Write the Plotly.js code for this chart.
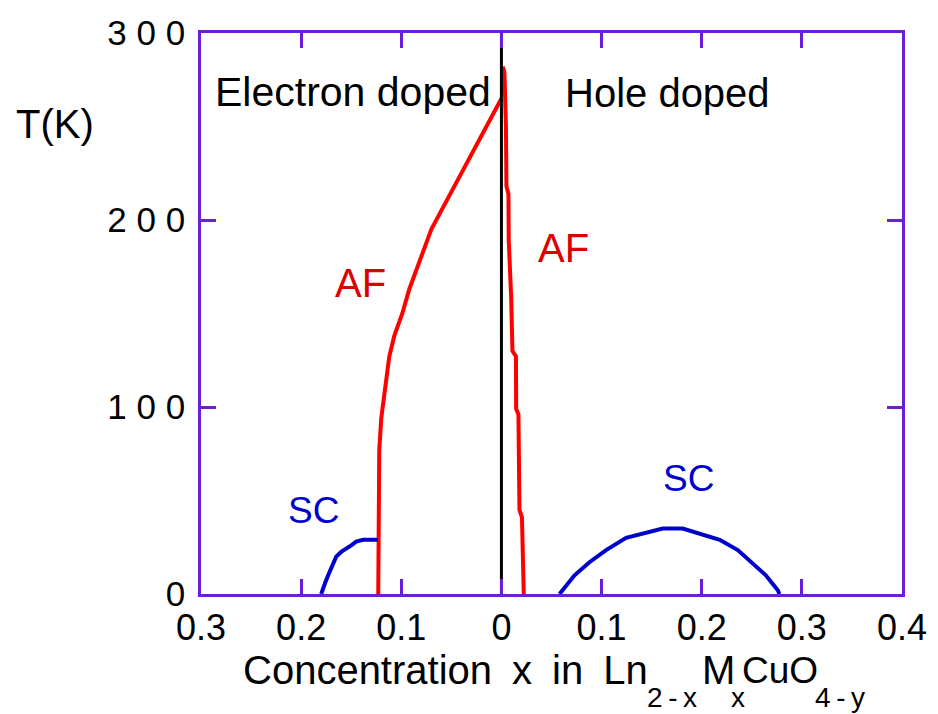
<!DOCTYPE html>
<html>
<head>
<meta charset="utf-8">
<script src="https://cdn.plot.ly/plotly-3.0.1.min.js"></script>
<style>html,body{margin:0;padding:0;background:#fff;}#chart{width:938px;height:714px;}</style>
</head>
<body>
<div id="chart"></div>
<script>
// --- data (concentration x: negative = electron doped, positive = hole doped) ---
const afElecX = [-0.123, -0.123, -0.122, -0.120, -0.117, -0.112, -0.107, -0.099, -0.092, -0.080, -0.070, -0.054, -0.040, -0.030, -0.020, -0.009, -0.002, 0];
const afElecT = [0, 70, 77, 94, 107, 127, 138, 150, 163, 180, 195, 211, 225, 235, 245, 255, 262, 265];

const afHoleX = [0.0013, 0.003, 0.0045, 0.005, 0.007, 0.0073, 0.0097, 0.011, 0.0145, 0.0147, 0.017, 0.0173, 0.018, 0.018, 0.0205, 0.0213, 0.0223];
const afHoleT = [282, 279, 250, 218, 214, 189, 159, 130, 127, 99, 96, 77, 68, 45, 41, 13, 0];

const scElecX = [-0.180, -0.179, -0.176, -0.173, -0.169, -0.165, -0.160, -0.155, -0.150, -0.145, -0.138, -0.1235];
const scElecT = [0, 2, 6, 10, 15, 20, 22.5, 24, 26, 28, 29, 29];

const scHoleX = [0.058, 0.0596, 0.073, 0.0879, 0.1045, 0.1245, 0.1445, 0.161, 0.181, 0.198, 0.218, 0.236, 0.251, 0.264, 0.276, 0.2776];
const scHoleT = [0, 1, 10, 17, 23.5, 30, 33, 35, 35, 32.5, 29, 23.5, 16, 10, 2, 0];

const boundaryX = [0, 0];
const boundaryT = [0, 300];

const xTickVals = [-0.3, -0.2, -0.1, 0, 0.1, 0.2, 0.3, 0.4];
const xTickText = ['0.3', '0.2', '0.1', '0', '0.1', '0.2', '0.3', '0.4'];
const yTickVals = [0, 100, 200, 300];
const yTickText = ['0\u2006', '1\u20080\u20080\u2006', '2\u20080\u20080\u2006', '3\u20080\u20080\u2006'];

const FONT = 'Liberation Sans, Arial, Helvetica, sans-serif';
const PURPLE = '#6a1ed6';
const RED = '#ff0000';
const BLUE = '#0000cc';

const traces = [
  {x: afElecX, y: afElecT, mode: 'lines', line: {color: RED, width: 4}},
  {x: afHoleX, y: afHoleT, mode: 'lines', line: {color: RED, width: 4}},
  {x: scElecX, y: scElecT, mode: 'lines', line: {color: BLUE, width: 4}},
  {x: scHoleX, y: scHoleT, mode: 'lines', line: {color: BLUE, width: 4}},
  {x: boundaryX, y: boundaryT, mode: 'lines', line: {color: '#000000', width: 3}}
];

function px2x(p) { return (p - 201) / 701; }
function px2y(p) { return (594 - p) / 561; }
function ann(text, px, py, size, color, xanchor) {
  return {text: text, xref: 'paper', yref: 'paper', x: px2x(px), y: px2y(py),
    xanchor: xanchor || 'center', yanchor: 'middle', showarrow: false,
    font: {family: FONT, size: size, color: color || '#000'}};
}

const layout = {
  width: 938, height: 714,
  margin: {l: 201, r: 36, t: 33, b: 120, pad: 0},
  paper_bgcolor: '#ffffff', plot_bgcolor: '#ffffff',
  showlegend: false,
  font: {family: FONT, color: '#000'},
  xaxis: {
    range: [-0.3, 0.4], tickmode: 'array', tickvals: xTickVals, ticktext: xTickText,
    ticks: 'inside', ticklen: 15, tickwidth: 3, tickcolor: PURPLE,
    showline: true, linecolor: PURPLE, linewidth: 3, mirror: 'ticks',
    showgrid: false, zeroline: false,
    tickfont: {family: FONT, size: 36, color: '#000'}
  },
  yaxis: {
    range: [0, 300], tickmode: 'array', tickvals: yTickVals, ticktext: yTickText,
    ticks: 'inside', ticklen: 15, tickwidth: 3, tickcolor: PURPLE,
    showline: true, linecolor: PURPLE, linewidth: 3, mirror: 'ticks',
    showgrid: false, zeroline: false,
    tickfont: {family: FONT, size: 35, color: '#000'}
  },
  annotations: [
    ann('Electron doped', 213, 92, 41, '#000', 'left'),
    ann('Hole doped', 563, 93, 40, '#000', 'left'),
    ann('AF', 360, 283, 40, '#dd0000'),
    ann('AF', 563, 248, 40, '#dd0000'),
    ann('SC', 313, 510, 37, BLUE),
    ann('SC', 688, 478, 37, BLUE),
    ann('T(K)', 55, 124, 40, '#000'),
    ann('Concentration\u2002x\u2002in\u2002Ln', 241, 670, 40, '#000', 'left'),
    ann('2\u2009-\u2009x', 645, 697, 28, '#000', 'left'),
    ann('M', 700, 670, 40, '#000', 'left'),
    ann('x', 729, 697, 28, '#000', 'left'),
    ann('CuO', 740, 670, 37, '#000', 'left'),
    ann('4\u2009-\u2009y', 813, 697, 28, '#000', 'left')
  ]
};

Plotly.newPlot('chart', traces, layout, {staticPlot: true, displayModeBar: false});
</script>
</body>
</html>
